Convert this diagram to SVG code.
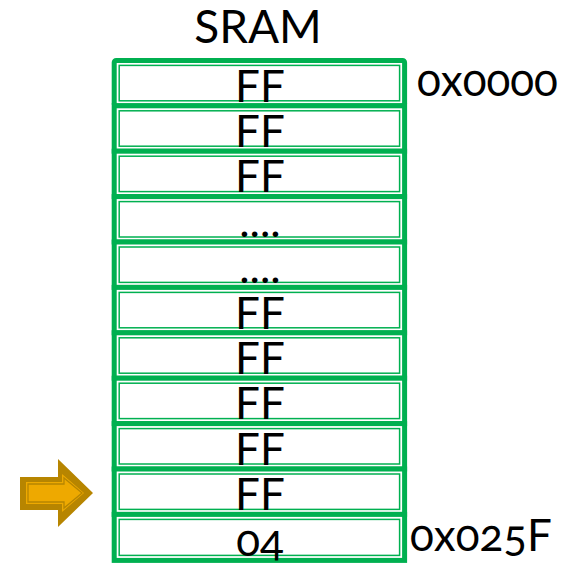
<svg xmlns="http://www.w3.org/2000/svg" width="576" height="564" viewBox="0 0 576 564">
<style>
.o{fill:#fff;stroke:#00B050;stroke-width:5}
.i{fill:none;stroke:#00B050;stroke-width:1.5}
.t{font-family:Lato,"Open Sans","Liberation Sans",sans-serif;font-size:44px;fill:#000;font-variant-numeric:oldstyle-nums;font-feature-settings:"onum"}
.c{text-anchor:middle}
</style>
<rect width="576" height="564" fill="#fff"/>
<text class="t c" x="258" y="43" style="font-size:46px">SRAM</text>
<g id="cell0"><rect class="o" x="114.2" y="60.4" width="290.4" height="45.4" rx="2"/><rect class="i" x="119.2" y="65.4" width="280.4" height="35.4"/><text class="t c" x="260" y="101.5">FF</text></g>
<g id="cell1"><rect class="o" x="114.2" y="105.8" width="290.4" height="45.4"/><rect class="i" x="119.2" y="110.8" width="280.4" height="35.4"/><text class="t c" x="260" y="146.9">FF</text></g>
<g id="cell2"><rect class="o" x="114.2" y="151.2" width="290.4" height="45.4"/><rect class="i" x="119.2" y="156.2" width="280.4" height="35.4"/><text class="t c" x="260" y="192.3">FF</text></g>
<g id="cell3"><rect class="o" x="114.2" y="196.6" width="290.4" height="45.4"/><rect class="i" x="119.2" y="201.6" width="280.4" height="35.4"/><text class="t c" x="260" y="237.2">....</text></g>
<g id="cell4"><rect class="o" x="114.2" y="242" width="290.4" height="45.4"/><rect class="i" x="119.2" y="247" width="280.4" height="35.4"/><text class="t c" x="260" y="282.6">....</text></g>
<g id="cell5"><rect class="o" x="114.2" y="287.4" width="290.4" height="45.4"/><rect class="i" x="119.2" y="292.4" width="280.4" height="35.4"/><text class="t c" x="260" y="328.5">FF</text></g>
<g id="cell6"><rect class="o" x="114.2" y="332.8" width="290.4" height="45.4"/><rect class="i" x="119.2" y="337.8" width="280.4" height="35.4"/><text class="t c" x="260" y="373.9">FF</text></g>
<g id="cell7"><rect class="o" x="114.2" y="378.2" width="290.4" height="45.4"/><rect class="i" x="119.2" y="383.2" width="280.4" height="35.4"/><text class="t c" x="260" y="419.3">FF</text></g>
<g id="cell8"><rect class="o" x="114.2" y="423.6" width="290.4" height="45.4"/><rect class="i" x="119.2" y="428.6" width="280.4" height="35.4"/><text class="t c" x="260" y="464.7">FF</text></g>
<g id="cell9"><rect class="o" x="114.2" y="469" width="290.4" height="45.4"/><rect class="i" x="119.2" y="474" width="280.4" height="35.4"/><text class="t c" x="260" y="510.1">FF</text></g>
<g id="cell10"><rect class="o" x="114.2" y="514.4" width="290.4" height="46"/><rect class="i" x="119.2" y="519.4" width="280.4" height="36"/><text class="t c" x="260" y="555.5">04</text></g>
<g id="addr-start"><text class="t" x="417" y="96">0x0000</text></g>
<g id="addr-end"><text class="t" x="410" y="551">0x025F</text></g>
<g id="pointer">
<polygon points="20,477 58,477 58,459 93,493 58,527 58,510 20,510" fill="#B78500"/>
<polygon points="26,482 62,482 62,474 84,493 62,512 62,504 26,504" fill="#EEA900"/>
<polygon points="28,484 64,484 64,478 82,493 64,508 64,502 28,502" fill="#EEA900" stroke="#B78500" stroke-width="1.3"/>
</g>
<g id="connectors"/>
</svg>
